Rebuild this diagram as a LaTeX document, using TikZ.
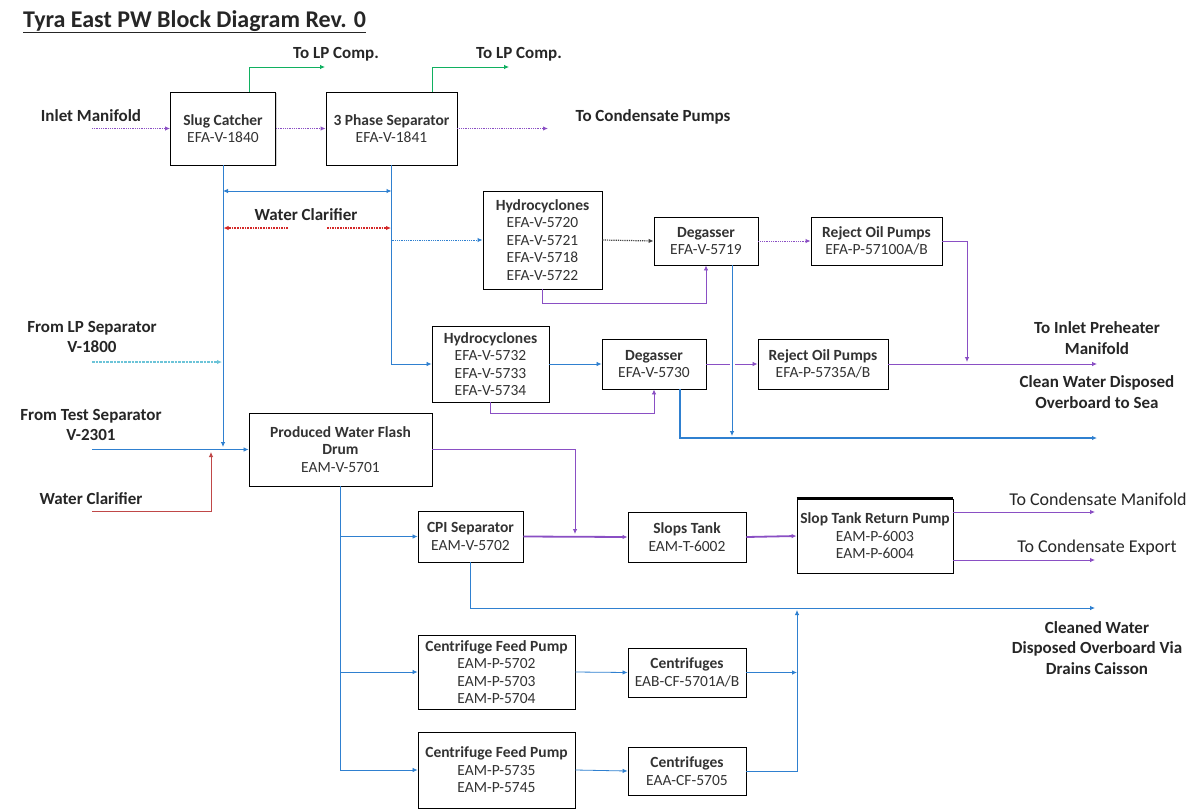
\documentclass[tikz,border=0pt]{standalone}
\usepackage{fontspec}
\setmainfont{Carlito}
\usetikzlibrary{arrows.meta,shadows}
\definecolor{pur}{HTML}{8A4FC4}
\definecolor{blu}{HTML}{2F80D0}
\definecolor{rd}{HTML}{D42828}
\definecolor{rdl}{HTML}{C04848}
\definecolor{grn}{HTML}{10B060}
\definecolor{tealc}{HTML}{6CC4D8}
\definecolor{txt}{HTML}{333333}
\begin{document}
\begin{tikzpicture}[x=1pt,y=-1pt,
  box/.style={draw=black, line width=0.9pt, fill=white, align=center, inner sep=0pt,
    text=txt, font=\fontsize{15.5}{17.5}\selectfont,
    drop shadow={shadow xshift=1.2pt, shadow yshift=-1.2pt, fill=gray!70}},
  lbl/.style={align=center, text=black!85, font=\fontsize{17}{20.5}\selectfont\bfseries},
  lblr/.style={align=center, text=black!85, font=\fontsize{18}{21}\selectfont},
  tip/.style={-{Latex[length=5pt,width=4.5pt]}},
  parr/.style={tip, draw=pur, line width=0.8pt},
  pard/.style={parr, densely dotted, line width=1pt},
  pthk/.style={tip, draw=pur, line width=1.8pt},
  barr/.style={tip, draw=blu, line width=0.8pt},
  bard/.style={barr, densely dotted, line width=1pt},
  bthk/.style={tip, draw=blu, line width=1.5pt},
  garr/.style={tip, draw=grn, line width=0.8pt},
  rarr/.style={tip, draw=rd, densely dotted, line width=1.6pt},
]
\useasboundingbox[fill=white] (0,0) rectangle (1197,809);

% title
\node[anchor=base west, inner sep=0pt, text=black!85, font=\fontsize{24}{27}\selectfont\bfseries] (title) at (23,27) {\underline{Tyra East PW Block Diagram Rev. 0}};

% boxes
\node[box, minimum width=105, minimum height=73] (slug) at (223,128.5) {\textbf{Slug Catcher}\\EFA-V-1840};
\node[box, minimum width=131, minimum height=73] (ph3) at (391.5,128.5) {\textbf{3 Phase Separator}\\EFA-V-1841};
\node[box, minimum width=119, minimum height=98] (hy1) at (542.5,240) {\textbf{Hydrocyclones}\\EFA-V-5720\\EFA-V-5721\\EFA-V-5718\\EFA-V-5722};
\node[box, minimum width=104, minimum height=48] (dg1) at (706,241) {\textbf{Degasser}\\EFA-V-5719};
\node[box, minimum width=131, minimum height=48] (rj1) at (876.5,241) {\textbf{Reject Oil Pumps}\\EFA-P-57100A/B};
\node[box, minimum width=117, minimum height=76] (hy2) at (490.5,364) {\textbf{Hydrocyclones}\\EFA-V-5732\\EFA-V-5733\\EFA-V-5734};
\node[box, minimum width=104, minimum height=50] (dg2) at (654,364) {\textbf{Degasser}\\EFA-V-5730};
\node[box, minimum width=130, minimum height=50] (rj2) at (823,364) {\textbf{Reject Oil Pumps}\\EFA-P-5735A/B};
\node[box, minimum width=183, minimum height=73] (fd) at (340.5,449.5) {\textbf{Produced Water Flash}\\\textbf{Drum}\\EAM-V-5701};
\node[box, minimum width=105, minimum height=51] (cpi) at (470.5,536.5) {\textbf{CPI Separator}\\EAM-V-5702};
\node[box, minimum width=118, minimum height=50] (slops) at (687,537) {\textbf{Slops Tank}\\EAM-T-6002};
\node[box, minimum width=156, minimum height=74] (pump) at (875,536) {\textbf{Slop Tank Return Pump}\\EAM-P-6003\\EAM-P-6004};
\node[box, minimum width=157, minimum height=74] (cfp1) at (496.5,672) {\textbf{Centrifuge Feed Pump}\\EAM-P-5702\\EAM-P-5703\\EAM-P-5704};
\node[box, minimum width=118, minimum height=49] (cf1) at (687,672.5) {\textbf{Centrifuges}\\EAB-CF-5701A/B};
\node[box, minimum width=157, minimum height=76] (cfp2) at (496.5,770) {\textbf{Centrifuge Feed Pump}\\EAM-P-5735\\EAM-P-5745};
\node[box, minimum width=118, minimum height=48] (cf2) at (687,771) {\textbf{Centrifuges}\\EAA-CF-5705};
\draw[line width=2.6pt] (pump.north west) -- (pump.north east);

% outside labels
\node[lbl] (lp1t) at (336,54) {To LP Comp.};
\node[lbl] (lp2t) at (519,54) {To LP Comp.};
\node[lbl] (inlt) at (91,116) {Inlet Manifold};
\node[lbl] (cpt) at (653,117) {To Condensate Pumps};
\node[lbl] (wct) at (306,215) {Water Clarifier};
\node[lbl] (lpst) at (92,337) {From LP Separator\\V-1800};
\node[lbl] (tst) at (91,425) {From Test Separator\\V-2301};
\node[lbl] (wc2t) at (91,499) {Water Clarifier};
\node[lbl] (ipt) at (1097,338) {To Inlet Preheater\\Manifold};
\node[lbl] (cwt) at (1097,392) {Clean Water Disposed\\Overboard to Sea};
\node[lblr] (cmt) at (1098,499) {To Condensate Manifold};
\node[lblr] (cet) at (1097,548) {To Condensate Export};
\node[lbl] (dct) at (1097,648) {Cleaned Water\\Disposed Overboard Via\\Drains Caisson};

% free-end coordinates
\coordinate (lp1) at (325,67);
\coordinate (lp2) at (509,67);
\coordinate (inS) at (92,128.5);
\coordinate (cpE) at (548,128.5);
\coordinate (j1) at (223,447);
\coordinate (da1) at (223,191);
\coordinate (da2) at (391.5,191);
\coordinate (rA) at (288,228);
\coordinate (rAt) at (223.5,228);
\coordinate (rB) at (327,228);
\coordinate (rBt) at (391,228);
\coordinate (t1) at (967,362);
\coordinate (o1) at (1097,364);
\coordinate (t2) at (732,436);
\coordinate (o2) at (1097,438);
\coordinate (lpS) at (92,362);
\coordinate (lpE) at (222,362);
\coordinate (tsS) at (92,449.5);
\coordinate (wcS) at (92,511);
\coordinate (wcE) at (211,452);
\coordinate (t3) at (575,534);
\coordinate (o3) at (1095,512);
\coordinate (o4) at (1095,560);
\coordinate (o5) at (1095,608);
\coordinate (m1) at (797,610);

% top section
\draw[garr] ([xshift=26pt]slug.north) |- (lp1);
\draw[garr] ([xshift=40.5pt]ph3.north) |- (lp2);
\draw[pard] (inS) -- (slug.west);
\draw[pard] (slug.east) -- (ph3.west);
\draw[pard] (ph3.east) -- (cpE);
\draw[barr] (slug.south) -- (j1);
\draw[draw=blu, line width=0.8pt, {Latex[length=5pt,width=4.5pt]}-{Latex[length=5pt,width=4.5pt]}] (da1) -- (da2);
\draw[rarr] (rA) -- (rAt);
\draw[rarr] (rB) -- (rBt);
\draw[barr] (ph3.south) |- (hy2.west);
\draw[bard] (ph3.south |- hy1.west) -- (hy1.west);

% hydrocyclone trains
\draw[tip, draw=black!75, densely dotted, line width=1.2pt] (hy1.east) -- (dg1.west);
\draw[pard] (dg1.east) -- (rj1.west);
\draw[parr] (rj1.east) -| (t1);
\draw[parr] (hy1.south) -- ++(0,14) -| (dg1.south);
\draw[barr] (hy2.east) -- (dg2.west);
\draw[parr] (hy2.south) -- ++(0,11) -| (dg2.south);
\draw[parr] (dg2.east) -- (rj2.west);
\draw[parr] (rj2.east) -- (o1);
\draw[bthk] ([xshift=26pt]dg2.south) |- (o2);
\draw[draw=white, line width=5pt] ([xshift=26pt,yshift=-4pt]dg1.south) -- ([yshift=-1pt]t2);
\draw[barr] ([xshift=26pt]dg1.south) -- (t2);

% left inputs
\draw[tip, draw=tealc, densely dotted, line width=2.6pt] (lpS) -- (lpE);
\draw[barr] (tsS) -- (fd.west);
\draw[tip, draw=rdl, line width=0.8pt] (wcS) -| (wcE);

% lower section
\draw[parr] (fd.east) -| (t3);
\draw[pthk] (cpi.east) -- (slops.west);
\draw[pthk] (slops.east) -- (pump.west);
\draw[parr] ([yshift=24pt]pump.east) -- (o3);
\draw[parr] ([yshift=-24pt]pump.east) -- (o4);
\draw[barr] (fd.south) |- (cfp2.west);
\draw[barr] (fd.south |- cpi.west) -- (cpi.west);
\draw[barr] (fd.south |- cfp1.west) -- (cfp1.west);
\draw[barr] (cpi.south) |- (o5);
\draw[barr] (cfp1.east) -- (cf1.west);
\draw[barr] (cfp2.east) -- (cf2.west);
\draw[barr] (cf1.east) -- (cf1.east -| m1);
\draw[barr] (cf2.east) -| (m1);
\end{tikzpicture}
\end{document}
